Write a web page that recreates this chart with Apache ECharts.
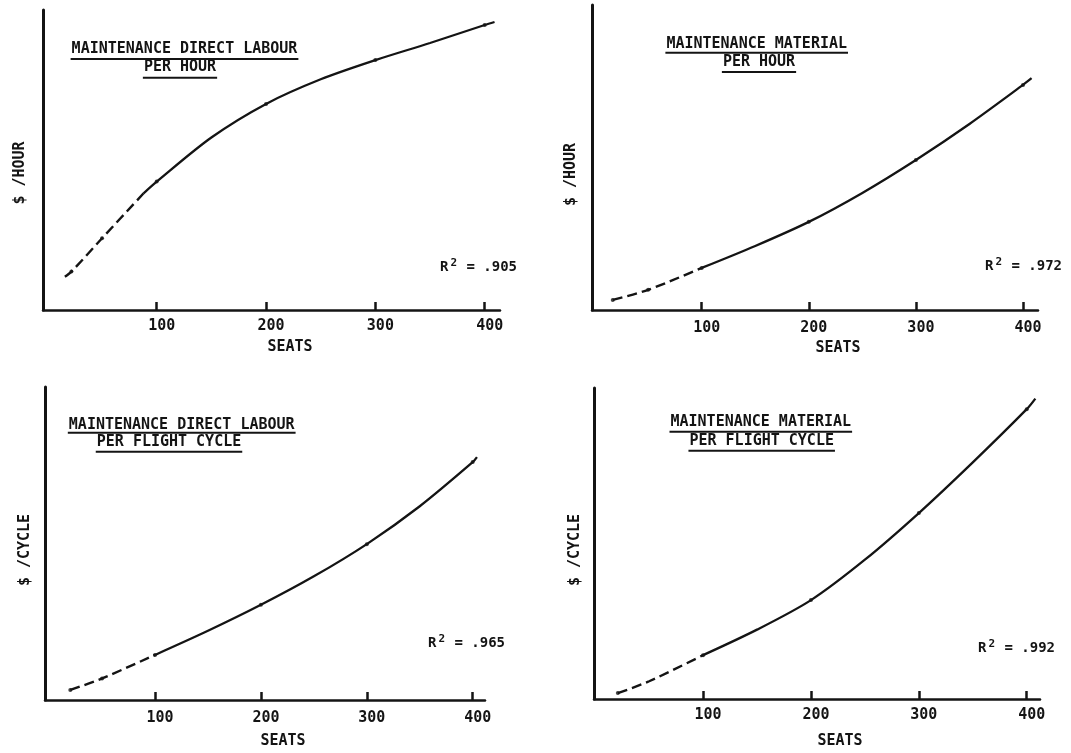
<!DOCTYPE html>
<html>
<head>
<meta charset="utf-8">
<script src="https://cdn.jsdelivr.net/npm/echarts@6/dist/echarts.min.js"></script>
<style>
  html, body { margin: 0; padding: 0; background: #ffffff; }
  #chart { width: 1071px; height: 753px; }
</style>
</head>
<body>
<div id="chart"></div>
<script>
// Seat counts marked on every x axis
const seatTicks = [100, 200, 300, 400];

// Maintenance direct labour per hour (relative $/hour)
const labourHourSeats = [16, 22, 50, 88, 100, 150, 200, 250, 300, 350, 400, 409];
const labourHourCost  = [11.1, 12.8, 23.9, 38.9, 42.8, 57.5, 68.7, 76.9, 83.3, 89.0, 95.0, 96.0];
const labourHourObserved = [22, 50, 100, 200, 300, 400];
const labourHourFitFrom = 88;

// Maintenance material per hour (relative $/hour)
const materialHourSeats = [17, 50, 100, 150, 200, 250, 300, 350, 400, 408];
const materialHourCost  = [3.3, 6.6, 13.8, 21.0, 28.9, 38.4, 49.2, 61.0, 73.8, 76.0];
const materialHourObserved = [17, 50, 100, 200, 300, 400];
const materialHourFitFrom = 100;

// Maintenance direct labour per flight cycle (relative $/cycle)
const labourCycleSeats = [20, 50, 100, 150, 200, 250, 300, 350, 400, 404];
const labourCycleCost  = [3.2, 6.9, 14.4, 22.1, 30.4, 39.5, 49.8, 61.9, 76.0, 77.6];
const labourCycleObserved = [20, 50, 100, 200, 300, 400];
const labourCycleFitFrom = 100;

// Maintenance material per flight cycle (relative $/cycle)
const materialCycleSeats = [21, 50, 100, 150, 200, 250, 300, 350, 400, 408];
const materialCycleCost  = [1.9, 5.7, 14.1, 22.3, 31.8, 44.8, 59.8, 76.1, 93.2, 96.6];
const materialCycleObserved = [21, 100, 200, 300, 400];
const materialCycleFitFrom = 100;

// Panel headings, axis names and fit quality
const panelTitles = [
  ['MAINTENANCE DIRECT LABOUR', 'PER HOUR'],
  ['MAINTENANCE MATERIAL', 'PER HOUR'],
  ['MAINTENANCE DIRECT LABOUR', 'PER FLIGHT CYCLE'],
  ['MAINTENANCE MATERIAL', 'PER FLIGHT CYCLE']
];
const yAxisNames = ['$ /HOUR', '$ /HOUR', '$ /CYCLE', '$ /CYCLE'];
const xAxisName = 'SEATS';
const rSquared = ['.905', '.972', '.965', '.992'];

const INK = '#141414';
const FAMILY = '"DejaVu Sans Mono", monospace';

const panels = [
  { seats: labourHourSeats, cost: labourHourCost, observed: labourHourObserved, from: labourHourFitFrom,
    grid: { left: 43, top: 10, width: 457, height: 300 }, xMin: -4, xMax: 414,
    yGap: 15.5, yShift: 26, xGap: 30, xShift: 37, labelMargin: 8.5,
    title: [[184.5, 49.5, 59], [180, 67.5, 77.7]], r2: [440, 266] },
  { seats: materialHourSeats, cost: materialHourCost, observed: materialHourObserved, from: materialHourFitFrom,
    grid: { left: 592, top: 5, width: 446, height: 305 }, xMin: -2.4, xMax: 414,
    yGap: 13.5, yShift: 34, xGap: 30.5, xShift: 46, labelMargin: 10.5,
    title: [[756.7, 44, 52.7], [759, 62.5, 72]], r2: [985, 265] },
  { seats: labourCycleSeats, cost: labourCycleCost, observed: labourCycleObserved, from: labourCycleFitFrom,
    grid: { left: 45, top: 387, width: 440, height: 313 }, xMin: -3.9, xMax: 411.6,
    yGap: 12.5, yShift: 13, xGap: 34, xShift: 36, labelMargin: 10.5,
    title: [[181.7, 424.7, 432.7], [169, 442.5, 451.7]], r2: [428, 642] },
  { seats: materialCycleSeats, cost: materialCycleCost, observed: materialCycleObserved, from: materialCycleFitFrom,
    grid: { left: 594, top: 388, width: 446, height: 311 }, xMin: -1.1, xMax: 412.3,
    yGap: 11.5, yShift: 13, xGap: 35, xShift: 46, labelMargin: 8.5,
    title: [[760.8, 422, 431.7], [761.7, 441, 450.7]], r2: [978, 647] }
];

const titleFont = 'bold 15px ' + FAMILY;
const measureCtx = document.createElement('canvas').getContext('2d');
function textWidth(text, font) {
  measureCtx.font = font;
  return measureCtx.measureText(text).width;
}

const grids = [], xAxes = [], yAxes = [], series = [], graphics = [];

panels.forEach((p, i) => {
  grids.push(Object.assign({ containLabel: false }, p.grid));

  xAxes.push({
    type: 'value', gridIndex: i, min: p.xMin, max: p.xMax,
    name: xAxisName, nameLocation: 'middle', nameGap: p.xGap,
    nameTextStyle: { fontFamily: FAMILY, fontWeight: 'bold', fontSize: 15, color: INK,
                     padding: [0, 0, 0, p.xShift] },
    axisLine: { show: true, onZero: false, lineStyle: { color: INK, width: 2.5 } },
    axisTick: { show: true, inside: true, length: 8, customValues: seatTicks,
                lineStyle: { color: INK, width: 2.5 } },
    axisLabel: { show: true, customValues: seatTicks, margin: p.labelMargin,
                 fontFamily: FAMILY, fontWeight: 'bold', fontSize: 15, color: INK,
                 padding: [0, 0, 0, 10] },
    splitLine: { show: false }
  });

  yAxes.push({
    type: 'value', gridIndex: i, min: 0, max: 100,
    name: yAxisNames[i], nameLocation: 'middle', nameGap: p.yGap,
    nameTextStyle: { fontFamily: FAMILY, fontWeight: 'bold', fontSize: 15, color: INK,
                     padding: [0, p.yShift, 0, 0] },
    axisLine: { show: true, onZero: false, lineStyle: { color: INK, width: 3 } },
    axisTick: { show: false },
    axisLabel: { show: false },
    splitLine: { show: false }
  });

  const pairs = p.seats.map((s, k) => [s, p.cost[k]]);
  const extrapolated = pairs.filter(d => d[0] <= p.from);
  const fitted = pairs.filter(d => d[0] >= p.from);
  const observed = pairs.filter(d => p.observed.includes(d[0]));

  series.push({
    type: 'line', xAxisIndex: i, yAxisIndex: i, data: extrapolated,
    smooth: 0.3, showSymbol: false, silent: true,
    lineStyle: { color: INK, width: 2.4, type: [10, 5] }
  });
  series.push({
    type: 'line', xAxisIndex: i, yAxisIndex: i, data: fitted,
    smooth: 0.3, showSymbol: false, silent: true,
    lineStyle: { color: INK, width: 2.3 }
  });
  series.push({
    type: 'scatter', xAxisIndex: i, yAxisIndex: i, data: observed,
    symbolSize: 4, silent: true, itemStyle: { color: INK }
  });

  // Underlined two-line heading
  panelTitles[i].forEach((line, j) => {
    const [cx, cy, uy] = p.title[j];
    const w = textWidth(line, titleFont);
    graphics.push({
      type: 'text', x: cx, y: cy, silent: true,
      style: { text: line, font: titleFont, fill: INK, align: 'center', verticalAlign: 'middle' }
    });
    graphics.push({
      type: 'line', silent: true,
      shape: { x1: cx - w / 2 - 1, y1: uy, x2: cx + w / 2 + 1, y2: uy },
      style: { stroke: INK, lineWidth: 2 }
    });
  });

  // Coefficient of determination
  graphics.push({
    type: 'text', x: p.r2[0], y: p.r2[1], silent: true,
    style: {
      text: '{r|R}{s|2}{r| = ' + rSquared[i] + '}',
      align: 'left', verticalAlign: 'middle',
      rich: {
        r: { fontFamily: FAMILY, fontWeight: 'bold', fontSize: 14, fill: INK, color: INK,
             verticalAlign: 'bottom' },
        s: { fontFamily: FAMILY, fontWeight: 'bold', fontSize: 11, fill: INK, color: INK,
             verticalAlign: 'bottom', padding: [0, 1, 6, 2] }
      }
    }
  });
});

const chart = echarts.init(document.getElementById('chart'), null, { renderer: 'canvas' });
chart.setOption({
  backgroundColor: '#ffffff',
  animation: false,
  grid: grids,
  xAxis: xAxes,
  yAxis: yAxes,
  series: series,
  graphic: graphics
});
</script>
</body>
</html>
